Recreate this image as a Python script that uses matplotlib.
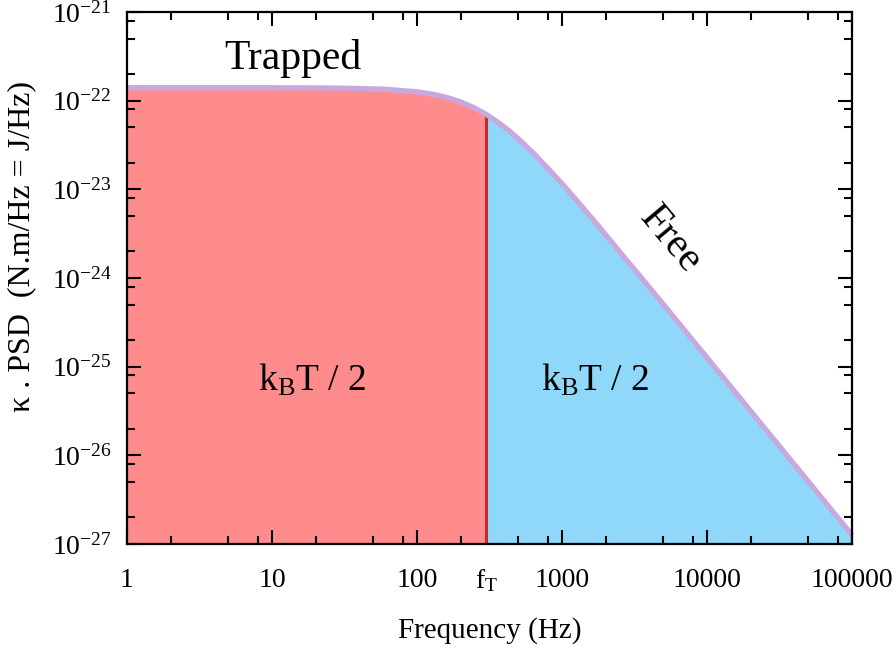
import numpy as np
import matplotlib
matplotlib.use('Agg')
import matplotlib.pyplot as plt
from matplotlib.ticker import FixedLocator, NullFormatter

plt.rcParams['font.family'] = ['Liberation Serif', 'DejaVu Serif']
plt.rcParams['mathtext.fontset'] = 'custom'
plt.rcParams['mathtext.rm'] = 'Liberation Serif'
plt.rcParams['mathtext.it'] = 'Liberation Serif:italic'
plt.rcParams['mathtext.bf'] = 'Liberation Serif:bold'

# PSD of a trapped bead (N.m/Hz), sampled along the frequency axis
freq = [1, 3, 10, 30, 60, 100, 130, 160, 200, 250, 300, 360, 430, 520, 650,
        800, 1000, 1200, 1500, 1800, 2200, 2700, 3500, 5000, 7000, 10000,
        30000, 100000]
psd = [1.40e-22, 1.40e-22, 1.40e-22, 1.386e-22, 1.346e-22, 1.26e-22, 1.178e-22,
       1.09e-22, 0.969e-22, 0.826e-22, 0.70e-22, 0.574e-22, 0.461e-22,
       0.350e-22, 0.246e-22, 0.172e-22, 1.16e-23, 8.24e-24, 5.38e-24,
       3.78e-24, 2.54e-24, 1.69e-24, 1.02e-24, 5.03e-25, 2.57e-25, 1.26e-25,
       1.40e-26, 1.26e-27]
f_T = 300

x_ticks = [1, 10, 100, f_T, 1000, 10000, 100000]
x_ticklabels = ['1', '10', '100', r'f$_\mathrm{T}$', '1000', '10000', '100000']
y_ticks = [1e-27, 1e-26, 1e-25, 1e-24, 1e-23, 1e-22, 1e-21]
y_ticklabels = [r'10$^{-27}$', r'10$^{-26}$', r'10$^{-25}$', r'10$^{-24}$',
                r'10$^{-23}$', r'10$^{-22}$', r'10$^{-21}$']

freq = np.array(freq)
psd = np.array(psd)

fig = plt.figure(figsize=(8.96, 6.53), dpi=100)
ax = fig.add_axes([0.1417, 0.167, 0.8093, 0.8146])

ax.set_xscale('log')
ax.set_yscale('log')
ax.set_xlim(1, 1e5)
ax.set_ylim(1e-27, 1e-21)

trapped = freq <= f_T
free = freq >= f_T
ax.fill_between(freq[trapped], 1e-27, psd[trapped], color='#ff8c8c', lw=0)
ax.fill_between(freq[free], 1e-27, psd[free], color='#8fd8fa', lw=0)
ax.plot([f_T, f_T], [1e-27, psd[freq == f_T][0]], color='#c8282a', lw=2.2, zorder=3)
ax.plot(freq, psd, color='#c9a8de', lw=3.8, zorder=4, clip_on=False,
        solid_capstyle='butt', solid_joinstyle='round')

ax.text(14, 3.0e-22, 'Trapped', fontsize=30, ha='center', va='center')
ax.text(5600, 2.7e-24, 'Free', fontsize=30, ha='center', va='center', rotation=-50)
ax.text(19, 7e-26, r'k$_\mathrm{B}$T / 2', fontsize=27, ha='center', va='center')
ax.text(1700, 7e-26, r'k$_\mathrm{B}$T / 2', fontsize=27, ha='center', va='center')

ax.xaxis.set_major_locator(FixedLocator(x_ticks))
ax.set_xticklabels(x_ticklabels)
ax.yaxis.set_major_locator(FixedLocator(y_ticks))
ax.set_yticklabels(y_ticklabels)

decades_x = [10.0 ** k for k in range(0, 5)]
decades_y = [10.0 ** k for k in range(-27, -21)]
ax.xaxis.set_minor_locator(FixedLocator([d * m for d in decades_x for m in (2, 5, 8)]))
ax.yaxis.set_minor_locator(FixedLocator([d * m for d in decades_y for m in (2, 5, 8)]))
ax.xaxis.set_minor_formatter(NullFormatter())
ax.yaxis.set_minor_formatter(NullFormatter())

ax.tick_params(which='both', direction='in', top=True, right=True, width=1.5,
               labelsize=20)
ax.tick_params(which='major', length=10)
ax.tick_params(which='minor', length=5.5)
ax.tick_params(axis='x', which='major', pad=17)
ax.tick_params(axis='y', which='major', pad=11)
# the f_T position has no tick mark of its own
ax.xaxis.get_major_ticks()[3].tick1line.set_visible(False)
ax.xaxis.get_major_ticks()[3].tick2line.set_visible(False)

for s in ax.spines.values():
    s.set_linewidth(1.6)
    s.set_zorder(5)

ax.set_xlabel('Frequency (Hz)', fontsize=21, labelpad=16)
ax.set_ylabel('κ . PSD  (N.m/Hz = J/Hz)', fontsize=23)
ax.yaxis.set_label_coords(-0.125, 0.56)

fig.savefig('out.png', dpi=100)
